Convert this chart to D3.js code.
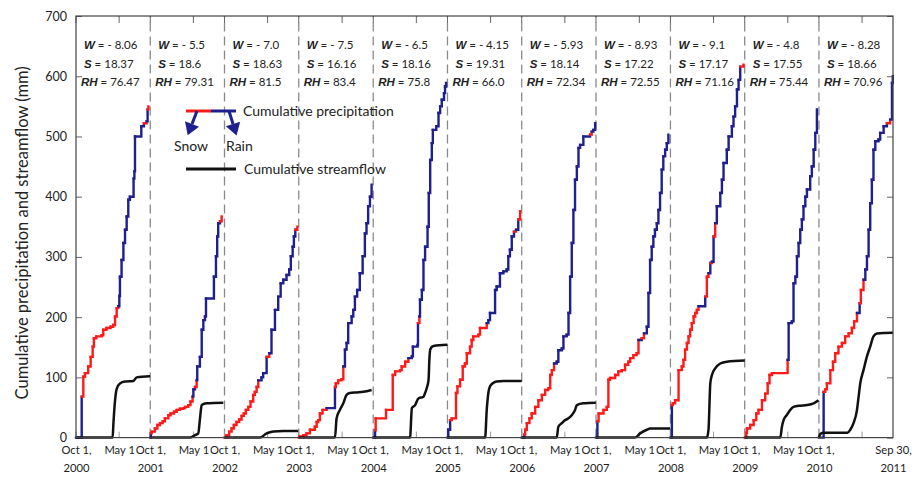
<!DOCTYPE html>
<html>
<head>
<meta charset="utf-8">
<script src="https://cdn.jsdelivr.net/npm/d3@7"></script>
<style>
body { margin: 0; background: #fff; }
text { font-family: Lato, "Open Sans", sans-serif; fill: #222; }
</style>
</head>
<body>
<script>
var outerWidth = 919;
var outerHeight = 477;
var margin = {left: 76, top: 16, right: 26, bottom: 39.4};
var innerWidth = outerWidth - margin.left - margin.right;
var innerHeight = outerHeight - margin.top - margin.bottom;

// water years (start year of each Oct 1 - Sep 30 panel)
var startYears = [2000, 2001, 2002, 2003, 2004, 2005, 2006, 2007, 2008, 2009, 2010];
var wValues = ["- 8.06", "- 5.5", "- 7.0", "- 7.5", "- 6.5", "- 4.15", "- 5.93", "- 8.93", "- 9.1", "- 4.8", "- 8.28"];
var sValues = ["18.37", "18.6", "18.63", "16.16", "18.16", "19.31", "18.14", "17.22", "17.17", "17.55", "18.66"];
var rhValues = ["76.47", "79.31", "81.5", "83.4", "75.8", "66.0", "72.34", "72.55", "71.16", "75.44", "70.96"];
var yTicks = [0, 100, 200, 300, 400, 500, 600, 700];

// cumulative precipitation: [day of water year, cumulative mm, phase of the step (s = snow, r = rain)]
var precip = [
  [[28,68,"r"],[36,101,"s"],[44,107,"s"],[60,118,"s"],[72,134,"s"],[82,151,"s"],[88,165,"s"],[100,168,"s"],[126,170,"s"],[134,179,"s"],[150,182,"s"],[170,184,"s"],[183,187,"s"],[192,201,"s"],[200,215,"s"],[208,218,"s"],[213,235,"r"],[216,267,"r"],[224,295,"r"],[233,323,"r"],[241,345,"r"],[249,367,"r"],[257,395,"r"],[265,400,"r"],[283,430,"r"],[287,442,"r"],[290,500,"r"],[321,517,"r"],[334,522,"r"],[347,525,"s"],[352,545,"r"],[356,550,"s"]],
  [[3,7,"r"],[7,10,"s"],[23,15,"s"],[35,21,"s"],[48,24,"s"],[61,27,"s"],[72,32,"s"],[89,37,"s"],[100,40,"s"],[117,43,"s"],[130,46,"s"],[146,48,"s"],[162,49,"s"],[171,51,"s"],[187,54,"s"],[198,60,"s"],[208,68,"s"],[212,80,"r"],[220,84,"r"],[228,95,"s"],[231,118,"r"],[244,134,"r"],[253,179,"r"],[261,195,"r"],[269,201,"r"],[274,231,"r"],[313,267,"r"],[323,301,"r"],[329,334,"r"],[334,356,"r"],[343,359,"r"],[351,367,"s"]],
  [[10,4,"s"],[23,10,"s"],[35,15,"s"],[46,21,"s"],[59,26,"s"],[72,30,"s"],[84,36,"s"],[95,40,"s"],[105,46,"s"],[117,51,"s"],[128,60,"s"],[141,71,"s"],[149,76,"s"],[158,84,"s"],[166,95,"s"],[182,100,"r"],[190,107,"r"],[207,134,"r"],[220,140,"s"],[231,179,"r"],[248,212,"r"],[264,234,"r"],[276,256,"r"],[289,262,"r"],[305,270,"r"],[318,279,"r"],[326,301,"r"],[335,317,"r"],[341,334,"r"],[348,345,"r"],[358,350,"s"]],
  [[3,2,"s"],[22,4,"s"],[38,7,"s"],[55,13,"s"],[79,18,"s"],[88,26,"s"],[96,29,"s"],[104,40,"s"],[117,46,"s"],[137,49,"s"],[178,84,"r"],[182,90,"s"],[194,95,"s"],[210,97,"s"],[219,118,"s"],[227,146,"r"],[235,157,"r"],[243,190,"r"],[260,201,"r"],[268,212,"r"],[276,234,"r"],[287,245,"r"],[300,273,"r"],[314,301,"r"],[325,339,"r"],[333,356,"r"],[341,384,"r"],[350,400,"r"],[358,420,"r"]],
  [[9,12,"r"],[12,32,"s"],[63,46,"s"],[96,104,"s"],[108,110,"s"],[132,112,"s"],[140,118,"s"],[157,126,"s"],[173,132,"s"],[190,135,"r"],[195,151,"r"],[218,154,"r"],[220,190,"r"],[227,201,"s"],[230,229,"r"],[239,245,"r"],[247,295,"r"],[255,317,"r"],[267,350,"r"],[273,406,"r"],[280,461,"r"],[288,489,"r"],[293,511,"r"],[310,517,"r"],[321,539,"r"],[329,550,"r"],[337,561,"r"],[348,572,"r"],[353,583,"r"],[358,589,"r"]],
  [[4,13,"r"],[13,29,"r"],[21,32,"s"],[42,74,"s"],[49,85,"s"],[62,96,"s"],[75,118,"s"],[86,123,"s"],[95,140,"s"],[111,151,"s"],[119,162,"s"],[127,168,"s"],[152,171,"s"],[160,182,"s"],[193,190,"s"],[201,195,"r"],[209,207,"r"],[234,245,"r"],[242,251,"r"],[258,273,"r"],[275,276,"r"],[291,279,"r"],[299,301,"r"],[307,312,"r"],[316,334,"r"],[327,342,"r"],[337,345,"s"],[348,362,"r"],[357,376,"s"]],
  [[12,5,"r"],[17,13,"s"],[25,24,"s"],[38,32,"s"],[49,40,"s"],[66,51,"s"],[82,62,"s"],[99,71,"s"],[115,79,"s"],[131,82,"s"],[140,104,"s"],[148,112,"s"],[159,123,"s"],[172,126,"r"],[180,145,"r"],[197,148,"r"],[205,168,"r"],[221,171,"r"],[230,207,"r"],[238,267,"r"],[246,323,"r"],[254,378,"r"],[262,428,"r"],[271,450,"r"],[279,481,"r"],[287,486,"r"],[303,500,"r"],[336,503,"r"],[344,508,"s"],[352,511,"r"],[361,522,"r"]],
  [[7,27,"r"],[13,40,"s"],[37,46,"s"],[53,51,"s"],[61,96,"s"],[69,99,"s"],[94,104,"s"],[110,110,"s"],[127,112,"s"],[143,121,"s"],[159,126,"s"],[168,132,"s"],[184,137,"s"],[200,140,"s"],[209,162,"s"],[225,165,"r"],[236,173,"s"],[250,184,"r"],[258,240,"r"],[266,295,"r"],[274,317,"r"],[282,334,"r"],[290,345,"r"],[299,356,"r"],[307,378,"r"],[315,406,"r"],[323,445,"r"],[331,467,"r"],[340,478,"r"],[348,489,"r"],[356,503,"r"]],
  [[7,54,"r"],[12,57,"s"],[23,62,"s"],[40,112,"s"],[56,118,"s"],[64,129,"s"],[72,146,"s"],[81,157,"s"],[89,168,"s"],[97,179,"s"],[105,190,"s"],[114,201,"s"],[122,207,"s"],[130,212,"s"],[138,218,"s"],[171,234,"r"],[179,267,"s"],[187,273,"s"],[196,290,"r"],[204,292,"s"],[212,334,"r"],[220,356,"s"],[228,384,"r"],[245,406,"r"],[253,428,"r"],[261,456,"r"],[277,478,"r"],[286,500,"r"],[302,517,"r"],[310,533,"r"],[318,550,"r"],[327,578,"r"],[335,594,"r"],[343,616,"r"],[359,619,"s"]],
  [[8,8,"s"],[11,15,"s"],[27,21,"s"],[44,29,"s"],[57,40,"s"],[68,46,"s"],[85,62,"s"],[101,73,"s"],[113,90,"s"],[122,104,"s"],[134,107,"s"],[211,129,"s"],[216,190,"r"],[232,193,"r"],[240,256,"r"],[249,267,"r"],[257,301,"r"],[265,323,"r"],[273,345,"r"],[281,362,"r"],[289,384,"r"],[298,400,"r"],[306,412,"r"],[322,434,"r"],[330,450,"r"],[339,478,"r"],[347,506,"r"],[355,545,"r"]],
  [[23,76,"r"],[31,80,"s"],[39,90,"s"],[56,112,"s"],[69,126,"s"],[80,140,"s"],[96,151,"s"],[113,157,"s"],[129,168,"s"],[146,173,"s"],[162,182,"s"],[173,193,"s"],[187,207,"s"],[200,223,"r"],[206,245,"s"],[219,262,"s"],[228,279,"r"],[236,301,"r"],[244,345,"r"],[252,389,"r"],[260,428,"r"],[268,478,"r"],[277,492,"r"],[293,495,"r"],[301,506,"r"],[318,517,"r"],[334,522,"r"],[350,528,"s"],[359,589,"r"],[363,600,"r"]]
];

// cumulative streamflow: [day of water year, cumulative mm]
var flow = [
  [[0,0],[180,0],[184,24],[192,62],[200,81],[216,90],[241,93],[282,94],[298,100],[364,102]],
  [[0,0],[195,0],[220,4],[236,7],[244,30],[253,54],[277,57],[359,58]],
  [[0,0],[174,0],[207,7],[240,10],[289,11],[362,11]],
  [[0,0],[178,0],[186,32],[202,46],[219,57],[235,71],[251,74],[284,75],[317,76],[358,79]],
  [[0,0],[181,0],[190,49],[206,54],[222,65],[247,68],[255,74],[263,82],[272,96],[276,129],[280,146],[296,152],[365,154]],
  [[0,0],[185,0],[193,46],[201,74],[209,85],[226,91],[242,93],[275,94],[365,94]],
  [[0,0],[172,0],[180,18],[197,24],[213,29],[230,32],[246,37],[262,46],[271,54],[303,57],[364,58]],
  [[0,0],[192,0],[217,7],[250,13],[266,15],[364,15]],
  [[0,0],[179,0],[187,13],[196,90],[204,104],[220,115],[245,123],[277,126],[365,128]],
  [[0,0],[175,0],[183,18],[191,29],[208,38],[224,46],[240,51],[273,53],[306,54],[339,57],[363,62]],
  [[0,0],[5,5],[20,8],[140,8],[154,13],[170,24],[187,46],[195,68],[203,90],[219,112],[236,135],[252,151],[268,168],[285,173],[364,174]]
];

var snowColor = "#ff1a1a";
var rainColor = "#1f1f8f";

var svg = d3.select("body").append("svg")
    .attr("width", outerWidth)
    .attr("height", outerHeight);

var x = d3.scaleTime()
    .domain([new Date(2000, 9, 1), new Date(2011, 8, 30)])
    .range([margin.left, margin.left + innerWidth]);
var y = d3.scaleLinear()
    .domain([0, 700])
    .range([margin.top + innerHeight, margin.top]);

function dayDate(k, day) {
    return d3.timeDay.offset(new Date(startYears[k], 9, 1), day);
}

// tick dates: Oct 1 of each year, May 1 inside each panel, Sep 30 at the end
var oct1 = startYears.map(function(yr) { return new Date(yr, 9, 1); });
var may1 = startYears.map(function(yr) { return new Date(yr + 1, 4, 1); });
var endDate = new Date(2011, 8, 30);

// year separators
svg.append("g").selectAll("line")
    .data(oct1.slice(1))
    .enter().append("line")
    .attr("x1", function(d) { return x(d); })
    .attr("x2", function(d) { return x(d); })
    .attr("y1", y(0))
    .attr("y2", y(700))
    .attr("stroke", "#8a8a8a")
    .attr("stroke-width", 1.3)
    .attr("stroke-dasharray", "9,5");

// inner ticks top and bottom
var tickDates = oct1.concat(may1);
svg.append("g").selectAll("line")
    .data(tickDates)
    .enter().append("line")
    .attr("x1", function(d) { return x(d); })
    .attr("x2", function(d) { return x(d); })
    .attr("y1", y(700))
    .attr("y2", y(700) + 7)
    .attr("stroke", "#666");
svg.append("g").selectAll("line")
    .data(tickDates)
    .enter().append("line")
    .attr("x1", function(d) { return x(d); })
    .attr("x2", function(d) { return x(d); })
    .attr("y1", y(0))
    .attr("y2", y(0) - 6)
    .attr("stroke", "#999");

// y axes, ticks inward
svg.append("g")
    .attr("transform", "translate(" + margin.left + ",0)")
    .call(d3.axisLeft(y).tickValues(yTicks).tickSizeInner(-6).tickSizeOuter(0).tickPadding(9))
    .call(function(g) {
        g.select(".domain").remove();
        g.selectAll("line").attr("stroke", "#666");
        g.selectAll("text").attr("font-size", 12.5).attr("font-family", "Lato").attr("fill", "#333");
    });
svg.append("g")
    .attr("transform", "translate(" + (margin.left + innerWidth) + ",0)")
    .call(d3.axisRight(y).tickValues(yTicks).tickSizeInner(-6).tickSizeOuter(0).tickFormat(""))
    .call(function(g) {
        g.select(".domain").remove();
        g.selectAll("line").attr("stroke", "#666");
    });

// x axis labels: first line from the axis, year line added as its own text
var labelDates = oct1.concat(may1.slice(0, 10)).concat([endDate]);
var fmtLabel = function(d) {
    if (d.getMonth() === 9) return "Oct 1,";
    if (d.getMonth() === 4) return "May 1";
    return "Sep 30,";
};
svg.append("g")
    .attr("transform", "translate(0," + y(0) + ")")
    .call(d3.axisBottom(x).tickValues(labelDates).tickSize(0).tickPadding(8).tickFormat(fmtLabel))
    .call(function(g) {
        g.select(".domain").remove();
        g.selectAll("text")
            .attr("font-size", 11.2).attr("font-family", "Lato").attr("fill", "#222");
        g.selectAll(".tick").each(function(d) {
            if (d.getMonth() === 4) return;
            d3.select(this).append("text")
                .attr("y", 26)
                .attr("dy", "0.71em")
                .attr("text-anchor", "middle")
                .attr("font-size", 11.2).attr("font-family", "Lato").attr("fill", "#222")
                .text(d.getMonth() === 9 ? d.getFullYear() : 2011);
        });
    });

// precipitation step curves, coloured by phase
var stepLine = d3.line()
    .x(function(d) { return d.x; })
    .y(function(d) { return d.y; })
    .curve(d3.curveStepAfter);

var precipGroup = svg.append("g");
precip.forEach(function(series, k) {
    var prev = [0, 0];
    series.forEach(function(p) {
        var seg = [
            {x: x(dayDate(k, prev[0])), y: y(prev[1])},
            {x: x(dayDate(k, p[0])), y: y(p[1])}
        ];
        precipGroup.append("path")
            .attr("d", stepLine(seg))
            .attr("fill", "none")
            .attr("stroke", p[2] === "s" ? snowColor : rainColor)
            .attr("stroke-width", 2.4)
            .attr("stroke-linecap", "square");
        prev = p;
    });
});

// streamflow
var flowLine = d3.line()
    .curve(d3.curveMonotoneX);
flow.forEach(function(series, k) {
    svg.append("path")
        .attr("d", flowLine(series.map(function(p) { return [x(dayDate(k, p[0])), y(p[1])]; })))
        .attr("fill", "none")
        .attr("stroke", "#111")
        .attr("stroke-width", 2.5);
});

// frame
svg.append("rect")
    .attr("x", margin.left)
    .attr("y", margin.top)
    .attr("width", innerWidth)
    .attr("height", innerHeight)
    .attr("fill", "none")
    .attr("stroke", "#444")
    .attr("stroke-width", 1.2);

// W, S, RH annotations
var notes = svg.append("g");
startYears.forEach(function(yr, k) {
    var x0 = x(oct1[k]);
    var rows = [["W", wValues[k], 49, 8], ["S", sValues[k], 67.5, 8], ["RH", rhValues[k], 86, 5]];
    rows.forEach(function(r) {
        var t = notes.append("text")
            .attr("x", x0 + r[3])
            .attr("y", r[2])
            .attr("font-size", 11.5)
            .attr("fill", "#333");
        t.append("tspan")
            .attr("font-family", "Liberation Sans, Arial, sans-serif")
            .attr("font-weight", "bold")
            .attr("font-style", "italic")
            .attr("fill", "#222")
            .text(r[0]);
        t.append("tspan").text(" = " + r[1]);
    });
});

// y axis title
svg.append("text")
    .attr("transform", "translate(28," + (margin.top + innerHeight / 2 + 6) + ") rotate(-90)")
    .attr("text-anchor", "middle")
    .attr("font-size", 16.5)
    .attr("fill", "#222")
    .text("Cumulative precipitation and streamflow (mm)");

// legend
var legend = svg.append("g");
legend.append("line").attr("x1", 186).attr("x2", 211).attr("y1", 111).attr("y2", 111)
    .attr("stroke", snowColor).attr("stroke-width", 3);
legend.append("line").attr("x1", 211).attr("x2", 236).attr("y1", 111).attr("y2", 111)
    .attr("stroke", rainColor).attr("stroke-width", 3);
[[197, 111, 192, 124], [229, 111, 233, 124]].forEach(function(a) {
    legend.append("line").attr("x1", a[0]).attr("y1", a[1]).attr("x2", a[2]).attr("y2", a[3])
        .attr("stroke", rainColor).attr("stroke-width", 3);
    var ang = Math.atan2(a[3] - a[1], a[2] - a[0]);
    var tipX = a[2] + Math.cos(ang) * 12, tipY = a[3] + Math.sin(ang) * 12;
    var px = Math.cos(ang + Math.PI / 2) * 7.5, py = Math.sin(ang + Math.PI / 2) * 7.5;
    legend.append("path")
        .attr("d", "M" + tipX + "," + tipY + "L" + (a[2] + px) + "," + (a[3] + py) +
            "L" + (a[2] - px) + "," + (a[3] - py) + "Z")
        .attr("fill", rainColor);
});
legend.append("text").attr("x", 243).attr("y", 116).attr("font-size", 14).text("Cumulative precipitation");
legend.append("text").attr("x", 174).attr("y", 151).attr("font-size", 14).text("Snow");
legend.append("text").attr("x", 226).attr("y", 151).attr("font-size", 14).text("Rain");
legend.append("line").attr("x1", 186).attr("x2", 236).attr("y1", 169).attr("y2", 169)
    .attr("stroke", "#111").attr("stroke-width", 3);
legend.append("text").attr("x", 244).attr("y", 174).attr("font-size", 14).text("Cumulative streamflow");
</script>
</body>
</html>
